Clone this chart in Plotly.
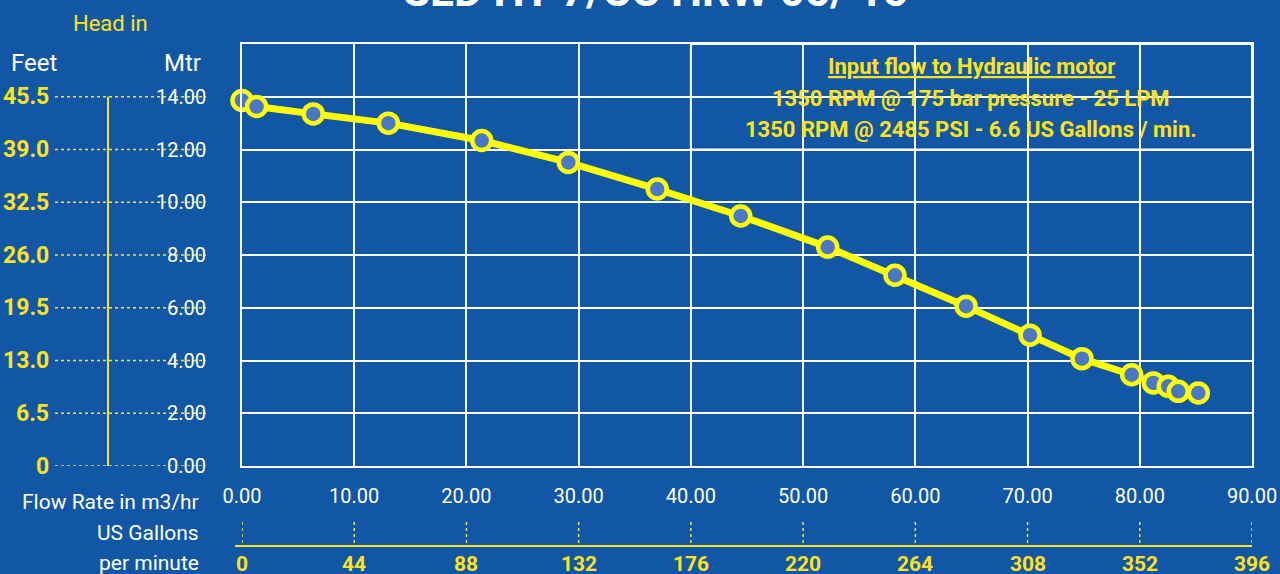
import plotly.graph_objects as go

# ---- data ----
flow_m3h = [0.0, 1.3, 6.35, 13.04, 21.36, 29.08, 37.0, 44.44, 52.19, 58.19,
            64.52, 70.22, 74.85, 79.28, 81.21, 82.54, 83.43, 85.22]
head_m = [13.86, 13.63, 13.35, 13.0, 12.34, 11.51, 10.5, 9.48, 8.30, 7.23,
          6.06, 4.96, 4.07, 3.46, 3.15, 3.02, 2.83, 2.77]

mtr_ticks = [0, 2, 4, 6, 8, 10, 12, 14]
mtr_labels = ["0.00", "2.00", "4.00", "6.00", "8.00", "10.00", "12.00", "14.00"]
feet_labels = ["0", "6.5", "13.0", "19.5", "26.0", "32.5", "39.0", "45.5"]

flow_ticks = [0, 10, 20, 30, 40, 50, 60, 70, 80, 90]
gpm_labels = ["0", "44", "88", "132", "176", "220", "264", "308", "352", "396"]

title_text = "SLD HT 7/CC HRW 05/ 15"
box_lines = ["<u>Input flow to Hydraulic motor</u>",
             "1350 RPM @ 175 bar pressure - 25 LPM",
             "1350 RPM @ 2485 PSI - 6.6 US Gallons / min."]

# ---- style ----
BG = "#1157A5"
YEL = "#FFFF00"
GOLD = "#FFE31A"
WHITE = "#FFFFFF"
FONT = "Roboto, sans-serif"

W, H = 1280, 574
L, R, T, B = 242, 28, 44, 108
pw, ph = W - L - R, H - T - B


def px_x(px):
    return (px - L) / pw


def px_y(py):
    return (H - B - py) / ph


fig = go.Figure()
fig.add_trace(go.Scatter(
    x=flow_m3h, y=head_m, mode="lines+markers",
    line=dict(color=YEL, width=7),
    marker=dict(size=19, color="#4A77C6", line=dict(color=YEL, width=4.5)),
    hoverinfo="x+y", showlegend=False, cliponaxis=False))

shapes = []
annotations = []

# text box (top right)
shapes.append(dict(type="rect", xref="x", yref="y", x0=40, x1=90, y0=12, y1=16,
                   fillcolor=BG, line=dict(color=WHITE, width=2), layer="below"))
for i, t in enumerate(box_lines):
    annotations.append(dict(xref="x", yref="paper", x=65, y=px_y([66, 98, 129][i]),
                            text="<b>" + t + "</b>", showarrow=False,
                            font=dict(family=FONT, size=22, color=GOLD),
                            xanchor="center", yanchor="middle"))

# title (cut at top)
annotations.append(dict(xref="paper", yref="paper", x=px_x(655), y=px_y(19),
                        text="<b>" + title_text + "</b>", showarrow=False,
                        font=dict(family=FONT, size=44, color=WHITE),
                        xanchor="center", yanchor="bottom"))

# left head scale
annotations.append(dict(xref="paper", yref="paper", x=px_x(110), y=px_y(23),
                        text="Head in", showarrow=False,
                        font=dict(family=FONT, size=22, color=GOLD),
                        xanchor="center", yanchor="middle"))
annotations.append(dict(xref="paper", yref="paper", x=px_x(34), y=px_y(63),
                        text="Feet", showarrow=False,
                        font=dict(family=FONT, size=24, color=WHITE),
                        xanchor="center", yanchor="middle"))
annotations.append(dict(xref="paper", yref="paper", x=px_x(182), y=px_y(63),
                        text="Mtr", showarrow=False,
                        font=dict(family=FONT, size=24, color=WHITE),
                        xanchor="center", yanchor="middle"))
for v, ml, fl in zip(mtr_ticks, mtr_labels, feet_labels):
    shapes.append(dict(type="line", xref="paper", yref="y", x0=px_x(55), x1=px_x(206),
                       y0=v, y1=v, line=dict(color=GOLD, width=1.5, dash="dot")))
    annotations.append(dict(xref="paper", yref="y", x=px_x(208), y=v, text=ml,
                            showarrow=False, xanchor="right", yanchor="middle",
                            font=dict(family=FONT, size=20, color=WHITE)))
    annotations.append(dict(xref="paper", yref="y", x=px_x(51), y=v, text="<b>" + fl + "</b>",
                            showarrow=False, xanchor="right", yanchor="middle",
                            font=dict(family=FONT, size=23, color=GOLD)))
shapes.append(dict(type="line", xref="paper", yref="y", x0=px_x(108), x1=px_x(108),
                   y0=min(mtr_ticks), y1=max(mtr_ticks), line=dict(color=GOLD, width=2)))

# bottom labels
for txt, py in [("Flow Rate in m3/hr", 502), ("US Gallons", 533), ("per minute", 563)]:
    annotations.append(dict(xref="paper", yref="paper", x=px_x(201), y=px_y(py), text=txt,
                            showarrow=False, xanchor="right", yanchor="middle",
                            font=dict(family=FONT, size=21, color=WHITE)))

# GPM scale
shapes.append(dict(type="line", xref="paper", yref="paper", x0=px_x(235), x1=1,
                   y0=px_y(546), y1=px_y(546), line=dict(color=GOLD, width=2)))
for v, g in zip(flow_ticks, gpm_labels):
    shapes.append(dict(type="line", xref="x", yref="paper", x0=v, x1=v,
                       y0=px_y(522), y1=px_y(544), line=dict(color=GOLD, width=1.5, dash="dot")))
    annotations.append(dict(xref="x", yref="paper", x=v, y=px_y(564), text="<b>" + g + "</b>",
                            showarrow=False, xanchor="center", yanchor="middle",
                            font=dict(family=FONT, size=21, color=GOLD)))

fig.update_layout(
    width=W, height=H, margin=dict(l=L, r=R, t=T, b=B, autoexpand=False),
    paper_bgcolor=BG, plot_bgcolor=BG,
    shapes=shapes, annotations=annotations, showlegend=False,
    xaxis=dict(range=[0, 90], tickvals=flow_ticks, tickformat=".2f",
               showgrid=True, gridcolor=WHITE, gridwidth=2, zeroline=False,
               showline=True, linecolor=WHITE, linewidth=2, mirror=True,
               ticks="", ticklabelstandoff=11, automargin=False,
               tickfont=dict(family=FONT, size=20, color=WHITE), fixedrange=True),
    yaxis=dict(range=[0, 16], tickvals=[0, 2, 4, 6, 8, 10, 12, 14, 16],
               showgrid=True, gridcolor=WHITE, gridwidth=2, zeroline=False,
               showline=True, linecolor=WHITE, linewidth=2, mirror=True,
               showticklabels=False, ticks="", automargin=False, fixedrange=True),
)

fig.write_html("out.html", config={"displayModeBar": False},
               post_script="document.body.style.margin='0';document.body.style.padding='0';"
                           "document.body.style.overflow='hidden';")
